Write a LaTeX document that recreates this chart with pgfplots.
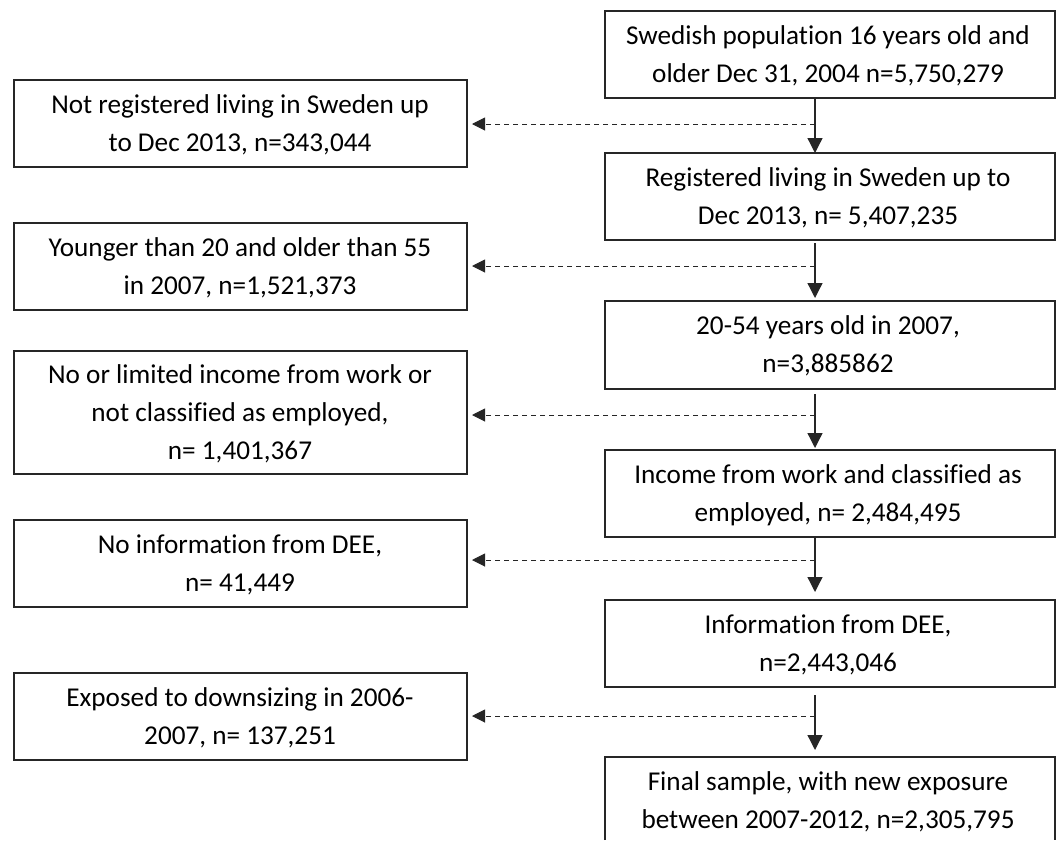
\documentclass[border=0pt]{standalone}
\usepackage{pgfplots}
\pgfplotsset{compat=1.18}
\usepackage{fontspec}
\setmainfont{Carlito}[Ligatures=NoCommon]
\usetikzlibrary{arrows.meta}
\begin{document}
\begin{tikzpicture}
\begin{axis}[scale only axis, width=1063pt, height=837pt,
  xmin=0, xmax=1063, ymin=0, ymax=837, y dir=reverse,
  hide axis, clip=false]
\addplot[draw=none] coordinates {(0,0) (1063,837)};
\tikzset{box/.style={draw=black!85, line width=1.7pt},
  txt/.style={align=center, font=\fontsize{27.2}{37.8}\selectfont, text=black},
  varr/.style={draw=black!85, line width=1.3pt, -{Triangle[length=15pt,width=15pt]}},
  darr/.style={draw=black!85, line width=1pt, dash pattern=on 5.5pt off 3.5pt, -{Triangle[length=13pt,width=13pt]}}}
% right column
\draw[box] (axis cs:605,11) rectangle (axis cs:1055,98);
\draw[box] (axis cs:605,153) rectangle (axis cs:1055,240);
\draw[box] (axis cs:605,301) rectangle (axis cs:1055,389);
\draw[box] (axis cs:605,450) rectangle (axis cs:1055,537);
\draw[box] (axis cs:605,600) rectangle (axis cs:1055,687);
\draw[box] (axis cs:605,840) -- (axis cs:605,757) -- (axis cs:1055,757) -- (axis cs:1055,840);
% left column
\draw[box] (axis cs:14,80) rectangle (axis cs:467,167);
\draw[box] (axis cs:14,223) rectangle (axis cs:467,310);
\draw[box] (axis cs:14,351) rectangle (axis cs:467,474);
\draw[box] (axis cs:14,520) rectangle (axis cs:467,607);
\draw[box] (axis cs:14,673) rectangle (axis cs:467,760);
% vertical arrows
\draw[varr] (axis cs:815,98) -- (axis cs:815,153);
\draw[varr] (axis cs:815,243) -- (axis cs:815,298);
\draw[varr] (axis cs:815,394) -- (axis cs:815,448);
\draw[varr] (axis cs:815,537) -- (axis cs:815,592);
\draw[varr] (axis cs:815,695) -- (axis cs:815,750);
% dashed arrows
\draw[darr] (axis cs:815,124) -- (axis cs:472,124);
\draw[darr] (axis cs:815,266) -- (axis cs:472,266);
\draw[darr] (axis cs:815,415) -- (axis cs:472,415);
\draw[darr] (axis cs:815,560) -- (axis cs:472,560);
\draw[darr] (axis cs:815,716) -- (axis cs:472,716);
% texts right
\node[txt] at (axis cs:828,56) {Swedish population 16 years old and\\older Dec 31, 2004 n=5,750,279};
\node[txt] at (axis cs:828,198) {Registered living in Sweden up to\\Dec 2013, n= 5,407,235};
\node[txt] at (axis cs:828,346) {20-54 years old in 2007,\\n=3,885862};
\node[txt] at (axis cs:828,495) {Income from work and classified as\\employed, n= 2,484,495};
\node[txt] at (axis cs:828,645) {Information from DEE,\\n=2,443,046};
\node[txt] at (axis cs:828,802) {Final sample, with new exposure\\between 2007-2012, n=2,305,795};
% texts left
\node[txt] at (axis cs:240,125) {Not registered living in Sweden up\\to Dec 2013, n=343,044};
\node[txt] at (axis cs:240,268) {Younger than 20 and older than 55\\in 2007, n=1,521,373};
\node[txt] at (axis cs:240,414) {No or limited income from work or\\not classified as employed,\\n= 1,401,367};
\node[txt] at (axis cs:240,565) {No information from DEE,\\n= 41,449};
\node[txt] at (axis cs:240,718) {Exposed to downsizing in 2006-\\2007, n= 137,251};
\end{axis}
\end{tikzpicture}
\end{document}
